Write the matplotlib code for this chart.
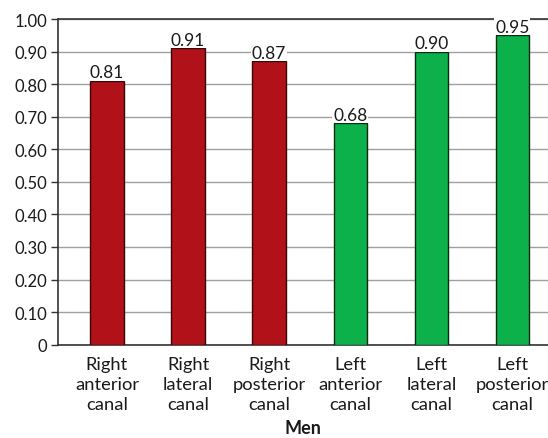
import numpy as np
import matplotlib.pyplot as plt

plt.rcParams['font.family'] = ['Lato', 'DejaVu Sans']

categories = ['Right\nanterior\ncanal', 'Right\nlateral\ncanal', 'Right\nposterior\ncanal',
              'Left\nanterior\ncanal', 'Left\nlateral\ncanal', 'Left\nposterior\ncanal']
values = [0.81, 0.91, 0.87, 0.68, 0.90, 0.95]
side = ['right', 'right', 'right', 'left', 'left', 'left']

colours = {'right': '#b11118', 'left': '#0db14b'}
edges = {'right': '#3a0505', 'left': '#0a2a10'}

fig = plt.figure(figsize=(5.48, 4.39), dpi=100)
ax = fig.add_axes([58/548, 1-345.7/439, 1-58/548, (345.7-20)/439])

x = np.arange(len(values))
ax.bar(x, values, width=0.41, color=[colours[s] for s in side],
       edgecolor=[edges[s] for s in side], linewidth=1.0, zorder=3)

for xi, v in zip(x, values):
    ax.text(xi, v + 0.002, '%.2f' % v, ha='center', va='bottom', fontsize=12.5,
            color='#1a1a1a', zorder=4,
            bbox=dict(facecolor='white', edgecolor='none', pad=0.5))

ax.set_xlim(-0.604, 5.44)
ax.set_ylim(0, 1.0)
yt = np.arange(0, 1.01, 0.1)
ax.set_yticks(yt)
ax.set_yticklabels(['0'] + ['%.2f' % t for t in yt[1:]], fontsize=12, color='#1a1a1a')
ax.set_xticks(x)
ax.set_xticklabels(categories, fontsize=13.2, color='#1a1a1a', linespacing=1.3)
ax.tick_params(axis='x', length=0, pad=8)
ax.tick_params(axis='y', length=5, width=1, color='#333333', pad=3)

ax.yaxis.grid(True, color='#a0a0a0', linewidth=1.0, zorder=0)
ax.set_axisbelow(True)
ax.spines['right'].set_visible(False)
for s in ['left', 'bottom', 'top']:
    ax.spines[s].set_color('#333333')
    ax.spines[s].set_linewidth(1.2)

ax.set_xlabel('Men', fontsize=13, fontweight='bold', color='#1a1a1a', labelpad=5.5)

fig.savefig('out.png', dpi=100)
